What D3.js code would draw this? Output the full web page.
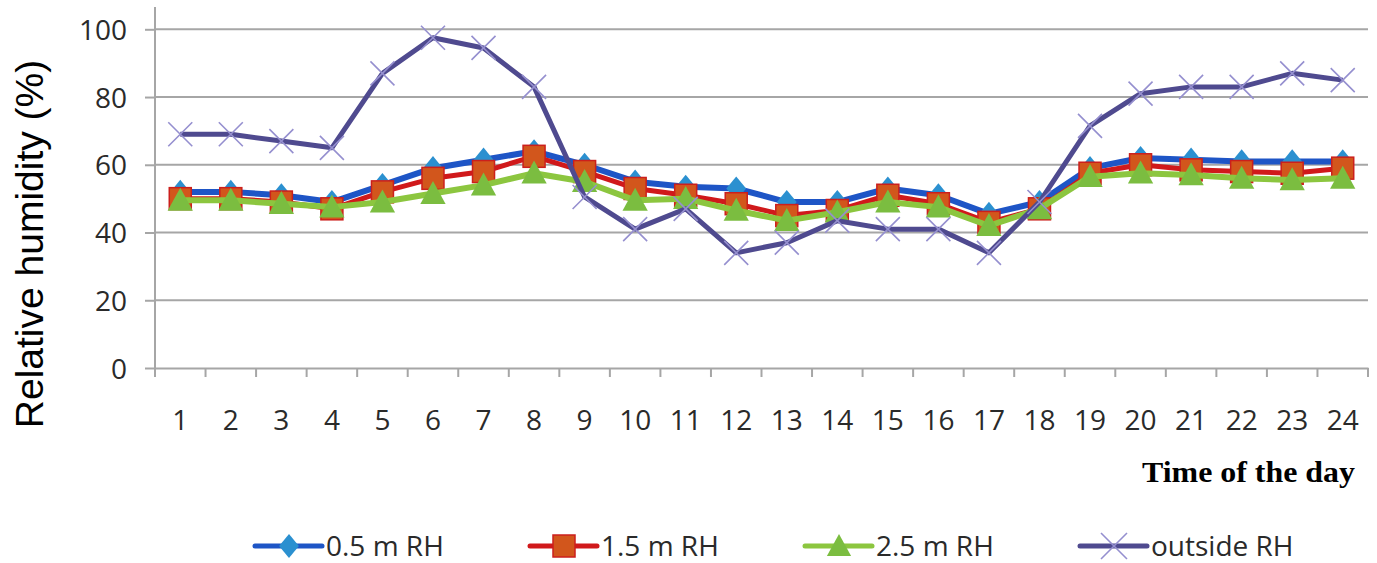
<!DOCTYPE html>
<html>
<head>
<meta charset="utf-8">
<script src="https://cdn.jsdelivr.net/npm/d3@7/dist/d3.min.js"></script>
<style>
  html, body { margin: 0; padding: 0; background: #fff; }
  svg { display: block; }
</style>
</head>
<body>
<svg id="chart" width="1377" height="563"></svg>
<script>
// ---- data ----
const hours = ["1","2","3","4","5","6","7","8","9","10","11","12","13","14","15","16","17","18","19","20","21","22","23","24"];
const rh05 = [52, 52, 51, 49, 54, 59, 61.5, 64, 60, 55, 53.5, 53, 49, 49, 53, 51, 45.5, 49, 59, 62, 61.5, 61, 61, 61];
const rh15 = [50, 50, 49, 47, 52, 56, 58, 62.5, 58, 53, 51, 48.5, 45, 46.5, 51, 48.5, 43, 47, 57.5, 60, 58.5, 58, 57.5, 59];
const rh25 = [49.5, 49.5, 48.5, 47.5, 49, 51.5, 54, 57.5, 55, 49.5, 50, 46.5, 43.5, 46, 49, 47.5, 42, 47, 56.5, 57.5, 57, 56, 55.5, 56];
const rhOut = [69, 69, 67, 65, 87, 97.5, 94.5, 83, 50.5, 41, 47, 34, 37, 43.5, 41, 41, 34, 49, 71.5, 81, 83, 83, 87, 85];
const yTicks = [0, 20, 40, 60, 80, 100];
const seriesNames = ["0.5 m RH", "1.5 m RH", "2.5 m RH", "outside RH"];

// ---- layout ----
const svg = d3.select("#chart");
const left = 155, right = 1368, top0 = 7, zeroY = 368, hundredY = 29.3;

const x = d3.scaleBand().domain(hours).range([left, right]).paddingInner(0).paddingOuter(0);
const y = d3.scaleLinear().domain([0, 100]).range([zeroY, hundredY]);
const cx = d => x(d) + x.bandwidth() / 2;

// gridlines
svg.append("g").selectAll("line").data(yTicks.filter(t => t > 0)).join("line")
  .attr("x1", left).attr("x2", right)
  .attr("y1", d => y(d)).attr("y2", d => y(d))
  .attr("stroke", "#a6a6a6").attr("stroke-width", 2);

// y axis
const yAxis = d3.axisLeft(y).tickValues(yTicks).tickSize(10).tickPadding(18);
const gy = svg.append("g").attr("transform", `translate(${left},0)`).call(yAxis);
gy.select(".domain").remove();
gy.selectAll(".tick line").attr("stroke", "#a6a6a6").attr("stroke-width", 2);
gy.selectAll(".tick text")
  .attr("font-family", "'Open Sans', sans-serif").attr("font-size", 28)
  .attr("fill", "#2a2a2a").attr("dy", "0.36em");
svg.append("line").attr("x1", left).attr("x2", left).attr("y1", top0).attr("y2", zeroY)
  .attr("stroke", "#a6a6a6").attr("stroke-width", 2);

// x axis
const xAxis = d3.axisBottom(x).tickSize(0).tickPadding(0);
const gx = svg.append("g").attr("transform", `translate(0,${zeroY})`).call(xAxis);
gx.select(".domain").attr("stroke", "#a6a6a6").attr("stroke-width", 2);
gx.selectAll(".tick text")
  .attr("font-family", "'Open Sans', sans-serif").attr("font-size", 28)
  .attr("fill", "#2a2a2a").attr("y", 62).attr("dy", 0);
// boundary ticks between categories
const bounds = hours.map(h => x(h)).concat([right]);
svg.append("g").selectAll("line").data(bounds).join("line")
  .attr("x1", d => d).attr("x2", d => d)
  .attr("y1", zeroY).attr("y2", zeroY + 9)
  .attr("stroke", "#a6a6a6").attr("stroke-width", 2);

// axis titles
svg.append("text")
  .attr("transform", "translate(43,244) rotate(-90)")
  .attr("text-anchor", "middle")
  .attr("font-family", "'Liberation Sans', Arial, sans-serif")
  .attr("font-size", 39).attr("fill", "#000")
  .text("Relative humidity (%)");
svg.append("text")
  .attr("x", 1142).attr("y", 482)
  .attr("font-family", "'Liberation Serif', 'Times New Roman', serif")
  .attr("font-weight", "bold").attr("font-size", 30).attr("fill", "#000")
  .attr("textLength", 213).attr("lengthAdjust", "spacingAndGlyphs")
  .text("Time of the day");

// ---- series ----
const styles = [
  { vals: rh05, line: "#1e55c6", fill: "#2b90d0", stroke: "none", width: 6, shape: "diamond" },
  { vals: rh15, line: "#d0191b", fill: "#d2561c", stroke: "#cc1f1c", width: 5, shape: "square" },
  { vals: rh25, line: "#8cc63f", fill: "#7bbd40", stroke: "none", width: 6, shape: "triangle" },
  { vals: rhOut, line: "#4f4a8f", fill: "none", stroke: "#958fcf", width: 5, shape: "x" }
];

function drawMarker(g, shape, s, st) {
  if (shape === "diamond") {
    g.append("path").attr("d", `M0,${-s*0.55}L${s*0.45},0L0,${s*0.55}L${-s*0.45},0Z`).attr("fill", st.fill);
  } else if (shape === "square") {
    g.append("rect").attr("x", -s/2).attr("y", -s/2).attr("width", s).attr("height", s)
      .attr("fill", st.fill).attr("stroke", st.stroke).attr("stroke-width", 1.5);
  } else if (shape === "triangle") {
    g.append("path").attr("d", `M0,${-s*0.55}L${s*0.55},${s*0.45}L${-s*0.55},${s*0.45}Z`).attr("fill", st.fill);
  } else {
    const h = s / 2;
    g.append("path").attr("d", `M${-h},${-h}L${h},${h}M${-h},${h}L${h},${-h}`)
      .attr("stroke", st.stroke).attr("stroke-width", 1.6).attr("fill", "none");
  }
}

const line = d3.line().x((d, i) => cx(hours[i])).y(d => y(d));
const markerSize = { diamond: 22, square: 22, triangle: 23, x: 24 };

styles.forEach(st => {
  const g = svg.append("g");
  g.append("path").datum(st.vals).attr("d", line)
    .attr("fill", "none").attr("stroke", st.line).attr("stroke-width", st.width)
    .attr("stroke-linejoin", "round");
  st.vals.forEach((v, i) => {
    const mg = g.append("g").attr("transform", `translate(${cx(hours[i])},${y(v)})`);
    drawMarker(mg, st.shape, markerSize[st.shape], st);
  });
});

// ---- legend ----
const legX = [255, 530, 805, 1080];
const legY = 546;
styles.forEach((st, i) => {
  const g = svg.append("g").attr("transform", `translate(${legX[i]},${legY})`);
  g.append("line").attr("x1", 0).attr("x2", 67).attr("y1", 0).attr("y2", 0)
    .attr("stroke", st.line).attr("stroke-width", 5).attr("stroke-linecap", "round");
  const mg = g.append("g").attr("transform", "translate(34,0)");
  drawMarker(mg, st.shape, st.shape === "x" ? 26 : 22, st);
  g.append("text").attr("x", 71).attr("y", 10)
    .attr("font-family", "'Open Sans', sans-serif").attr("font-size", 28)
    .attr("fill", "#2a2a2a").text(seriesNames[i]);
});
</script>
</body>
</html>
